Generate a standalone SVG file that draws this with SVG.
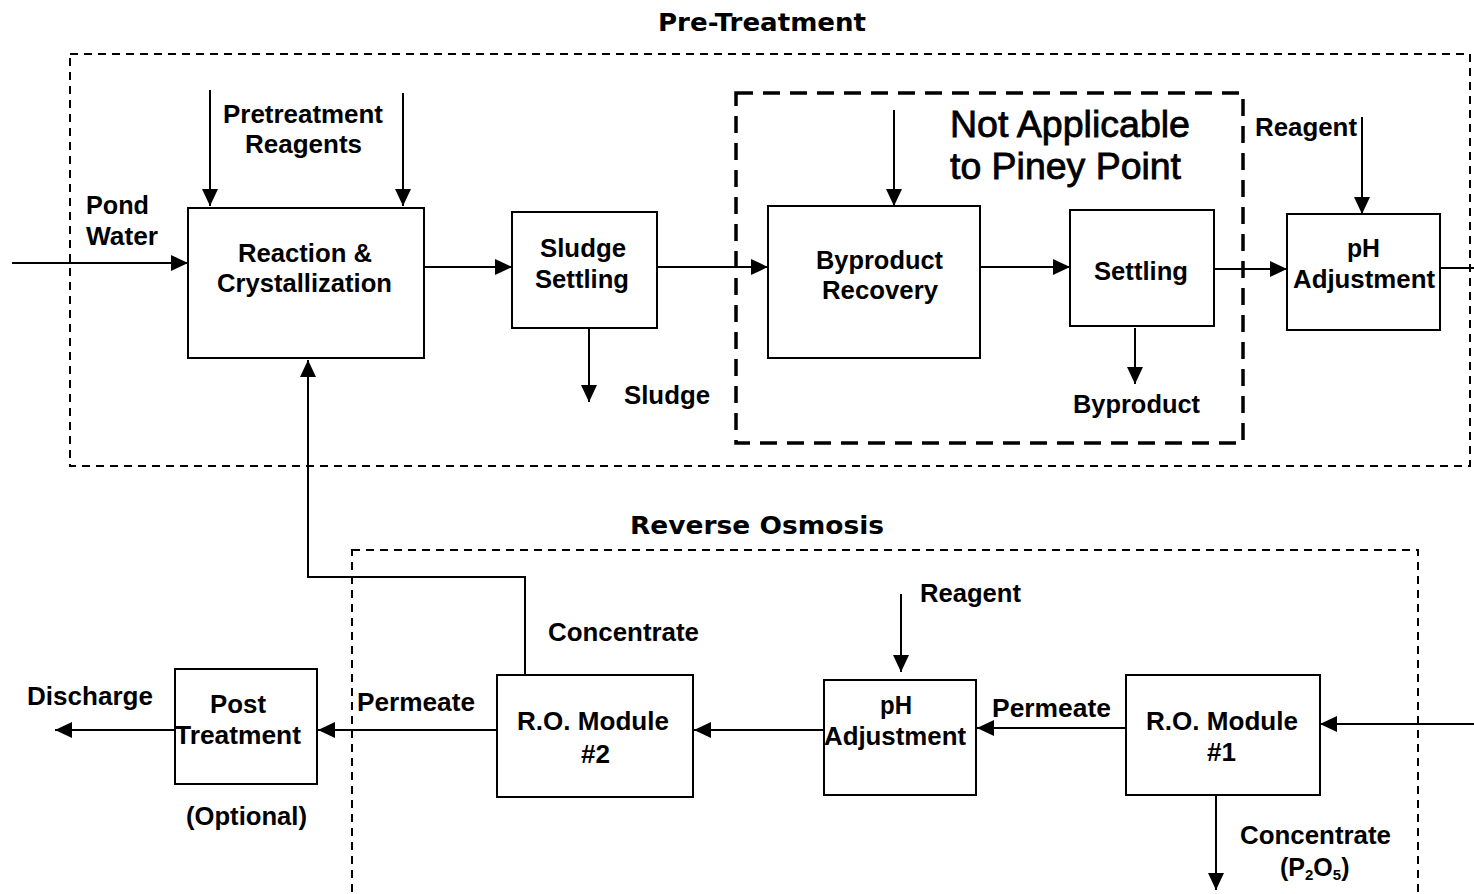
<svg xmlns="http://www.w3.org/2000/svg" width="1474" height="894" viewBox="0 0 1474 894">
<defs>
<style>
.bg{fill:#fff}
.box{fill:#fff;stroke:#000;stroke-width:2}
.zone{fill:none;stroke:#000;stroke-width:2;stroke-dasharray:8 6}
.na{fill:none;stroke:#000;stroke-width:3.5;stroke-dasharray:17 10}
.c{fill:none;stroke:#000;stroke-width:2}
.a{marker-end:url(#ah)}
text{font-family:"Liberation Sans",Arial,sans-serif;font-weight:bold;font-size:25px;fill:#000}
.t{font-family:"DejaVu Sans",Verdana,sans-serif;font-size:25px}
.big{font-weight:normal;font-size:36px;stroke:#000;stroke-width:0.8}
</style>
<marker id="ah" markerWidth="17" markerHeight="16" refX="17" refY="8" orient="auto" markerUnits="userSpaceOnUse">
<path d="M0,0 L17,8 L0,16 z" fill="#000"/>
</marker>
</defs>
<rect class="bg" x="0" y="0" width="1474" height="894"/>

<g id="zones">
<rect class="zone" x="70" y="54" width="1400" height="412"/>
<text class="t" x="658" y="31" textLength="208" lengthAdjust="spacingAndGlyphs">Pre-Treatment</text>
<rect class="zone" x="352" y="550" width="1066" height="400"/>
<text class="t" x="630" y="534" textLength="254" lengthAdjust="spacingAndGlyphs">Reverse Osmosis</text>
<rect class="na" x="736" y="93" width="507" height="350"/>
<text class="big" x="950" y="137" textLength="240" lengthAdjust="spacingAndGlyphs">Not Applicable</text>
<text class="big" x="950" y="179" textLength="231" lengthAdjust="spacingAndGlyphs">to Piney Point</text>
</g>

<g id="connectors">
<path class="c a" d="M12,263 H188"/>
<path class="c a" d="M210,90 V206"/>
<path class="c a" d="M403,93 V206"/>
<path class="c a" d="M424,267 H512"/>
<path class="c a" d="M589,328 V402"/>
<path class="c a" d="M657,267 H768"/>
<path class="c a" d="M894,110 V206"/>
<path class="c a" d="M980,267 H1070"/>
<path class="c a" d="M1135,328 V384"/>
<path class="c a" d="M1214,269 H1287"/>
<path class="c a" d="M1362,117 V214"/>
<path class="c" d="M1440,268 H1474"/>
<path class="c a" d="M1474,724 H1320"/>
<path class="c a" d="M1126,728 H977"/>
<path class="c a" d="M901,594 V672"/>
<path class="c a" d="M824,730 H694"/>
<path class="c a" d="M497,730 H318"/>
<path class="c a" d="M175,730 H55"/>
<path class="c a" d="M525,675 V577 H308 V360"/>
<path class="c a" d="M1216,795 V890"/>
</g>

<g id="labels">
<text x="86" y="214" textLength="63" lengthAdjust="spacingAndGlyphs">Pond</text>
<text x="86" y="245" textLength="72" lengthAdjust="spacingAndGlyphs">Water</text>
<text x="223" y="123" textLength="160" lengthAdjust="spacingAndGlyphs">Pretreatment</text>
<text x="245" y="153" textLength="117" lengthAdjust="spacingAndGlyphs">Reagents</text>
<text x="624" y="404" textLength="86" lengthAdjust="spacingAndGlyphs">Sludge</text>
<text x="1073" y="413" textLength="127" lengthAdjust="spacingAndGlyphs">Byproduct</text>
<text x="1255" y="136" textLength="102" lengthAdjust="spacingAndGlyphs">Reagent</text>
<text x="27" y="705" textLength="126" lengthAdjust="spacingAndGlyphs">Discharge</text>
<text x="186" y="825" textLength="121" lengthAdjust="spacingAndGlyphs">(Optional)</text>
<text x="357" y="711" textLength="118" lengthAdjust="spacingAndGlyphs">Permeate</text>
<text x="548" y="641" textLength="151" lengthAdjust="spacingAndGlyphs">Concentrate</text>
<text x="920" y="602" textLength="101" lengthAdjust="spacingAndGlyphs">Reagent</text>
<text x="992" y="717" textLength="119" lengthAdjust="spacingAndGlyphs">Permeate</text>
<text x="1240" y="844" textLength="151" lengthAdjust="spacingAndGlyphs">Concentrate</text>
<text x="1280" y="876">(P<tspan font-size="15" dy="4">2</tspan><tspan dy="-4">O</tspan><tspan font-size="15" dy="4">5</tspan><tspan dy="-4">)</tspan></text>
</g>

<g id="reaction">
<rect class="box" x="188" y="208" width="236" height="150"/>
<text x="238" y="262" textLength="134" lengthAdjust="spacingAndGlyphs">Reaction &amp;</text>
<text x="217" y="292" textLength="175" lengthAdjust="spacingAndGlyphs">Crystallization</text>
</g>

<g id="sludge-settling">
<rect class="box" x="512" y="212" width="145" height="116"/>
<text x="540" y="257" textLength="86" lengthAdjust="spacingAndGlyphs">Sludge</text>
<text x="535" y="288" textLength="94" lengthAdjust="spacingAndGlyphs">Settling</text>
</g>

<g id="byproduct-recovery">
<rect class="box" x="768" y="206" width="212" height="152"/>
<text x="816" y="269" textLength="127" lengthAdjust="spacingAndGlyphs">Byproduct</text>
<text x="822" y="299" textLength="116" lengthAdjust="spacingAndGlyphs">Recovery</text>
</g>

<g id="settling">
<rect class="box" x="1070" y="210" width="144" height="116"/>
<text x="1094" y="280" textLength="94" lengthAdjust="spacingAndGlyphs">Settling</text>
</g>

<g id="ph-adjustment-1">
<rect class="box" x="1287" y="214" width="153" height="116"/>
<text x="1347" y="257" textLength="33" lengthAdjust="spacingAndGlyphs">pH</text>
<text x="1293" y="288" textLength="142" lengthAdjust="spacingAndGlyphs">Adjustment</text>
</g>

<g id="post-treatment">
<rect class="box" x="175" y="669" width="142" height="115"/>
<text x="210" y="713" textLength="56" lengthAdjust="spacingAndGlyphs">Post</text>
<text x="175" y="744" textLength="126" lengthAdjust="spacingAndGlyphs">Treatment</text>
</g>

<g id="ro-module-2">
<rect class="box" x="497" y="675" width="196" height="122"/>
<text x="517" y="730" textLength="152" lengthAdjust="spacingAndGlyphs">R.O. Module</text>
<text x="581" y="763" textLength="29" lengthAdjust="spacingAndGlyphs">#2</text>
</g>

<g id="ph-adjustment-2">
<rect class="box" x="824" y="680" width="152" height="115"/>
<text x="880" y="714" textLength="32" lengthAdjust="spacingAndGlyphs">pH</text>
<text x="824" y="745" textLength="142" lengthAdjust="spacingAndGlyphs">Adjustment</text>
</g>

<g id="ro-module-1">
<rect class="box" x="1126" y="675" width="194" height="120"/>
<text x="1146" y="730" textLength="152" lengthAdjust="spacingAndGlyphs">R.O. Module</text>
<text x="1207" y="761" textLength="29" lengthAdjust="spacingAndGlyphs">#1</text>
</g>
</svg>
